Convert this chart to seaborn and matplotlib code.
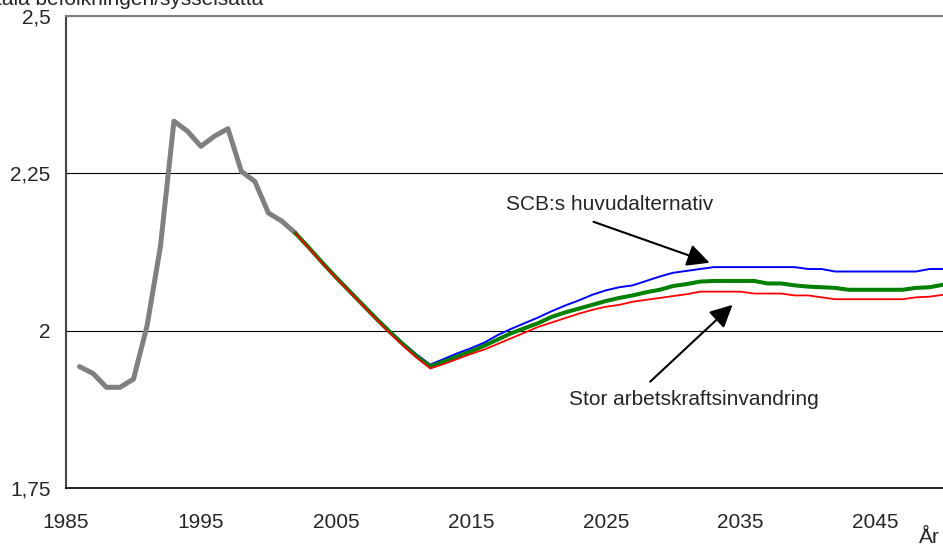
import matplotlib
matplotlib.use("Agg")
import matplotlib.pyplot as plt
import seaborn as sns
import pandas as pd

# historik 1986-2002
hist_years = list(range(1986, 2003))
hist_values = [1.943, 1.932, 1.910, 1.910, 1.923, 2.007, 2.134, 2.333, 2.317, 2.293,
               2.309, 2.321, 2.253, 2.237, 2.187, 2.174, 2.155]

# prognoser 2002-2050
prog_years = list(range(2002, 2051))
huvud = [2.155, 2.132, 2.109, 2.086, 2.064, 2.042, 2.021, 2.000, 1.980, 1.962,
         1.946, 1.955, 1.964, 1.972, 1.981, 1.993, 2.003, 2.012, 2.021, 2.031,
         2.040, 2.048, 2.057, 2.064, 2.069, 2.072, 2.079, 2.086, 2.092, 2.095,
         2.098, 2.101, 2.101, 2.101, 2.101, 2.101, 2.101, 2.101, 2.098, 2.098,
         2.094, 2.094, 2.094, 2.094, 2.094, 2.094, 2.094, 2.098, 2.098]
mellan = [2.155, 2.132, 2.108, 2.085, 2.063, 2.041, 2.019, 1.998, 1.978, 1.959,
          1.943, 1.951, 1.959, 1.967, 1.976, 1.986, 1.996, 2.004, 2.012, 2.022,
          2.029, 2.035, 2.041, 2.047, 2.052, 2.056, 2.061, 2.065, 2.071, 2.074,
          2.078, 2.079, 2.079, 2.079, 2.079, 2.075, 2.075, 2.072, 2.070, 2.069,
          2.068, 2.065, 2.065, 2.065, 2.065, 2.065, 2.068, 2.069, 2.073]
stor_inv = [2.155, 2.131, 2.107, 2.084, 2.062, 2.040, 2.018, 1.996, 1.976, 1.957,
            1.940, 1.947, 1.955, 1.963, 1.970, 1.979, 1.988, 1.997, 2.006, 2.013,
            2.020, 2.027, 2.033, 2.038, 2.041, 2.046, 2.049, 2.052, 2.055, 2.058,
            2.062, 2.062, 2.062, 2.062, 2.059, 2.059, 2.059, 2.056, 2.056, 2.053,
            2.050, 2.050, 2.050, 2.050, 2.050, 2.050, 2.053, 2.054, 2.057]

y_ticks = [1.75, 2.0, 2.25, 2.5]
y_labels = ["1,75", "2", "2,25", "2,5"]
x_ticks = list(range(1985, 2051, 5))
x_labels = [str(y) if (y - 1985) % 10 == 0 and y < 2050 else "" for y in x_ticks]

sns.set_style("white")
plt.rcParams["font.family"] = ["Liberation Sans", "DejaVu Sans"]
plt.rcParams["font.size"] = 15

df_hist = pd.DataFrame({"year": hist_years, "value": hist_values})
df_prog = pd.DataFrame({"year": prog_years, "huvud": huvud, "mellan": mellan, "stor": stor_inv})

fig = plt.figure(figsize=(9.43, 5.45), dpi=100)
ax = fig.add_axes([0.070, 0.1046, 0.93, 0.866])

sns.lineplot(x="year", y="value", data=df_hist, color="#808080", linewidth=3.6, ax=ax)
sns.lineplot(x="year", y="huvud", data=df_prog, color="#0000FF", linewidth=1.4, ax=ax)
sns.lineplot(x="year", y="mellan", data=df_prog, color="#008000", linewidth=2.9, ax=ax)
sns.lineplot(x="year", y="stor", data=df_prog, color="#FF0000", linewidth=1.3, ax=ax)

ax.set_xlim(1985, 2050)
ax.set_ylim(1.75, 2.5)
ax.set_xticks(x_ticks)
ax.set_xticklabels(x_labels)
ax.set_yticks(y_ticks)
ax.set_yticklabels(y_labels)
ax.set_xlabel("")
ax.set_ylabel("")
ax.tick_params(axis="x", direction="out", length=5, width=1, color="#000000", pad=13, labelsize=15)
ax.tick_params(axis="y", direction="inout", length=10, width=1, color="#000000", pad=6, labelsize=15)

ax.yaxis.grid(True, color="#000000", linewidth=0.8)
ax.set_axisbelow(True)
ax.spines["right"].set_visible(False)
ax.spines["top"].set_color("#808080")
ax.spines["top"].set_linewidth(1.5)
ax.spines["left"].set_color("#444444")
ax.spines["left"].set_linewidth(1.5)
ax.spines["bottom"].set_color("#000000")
ax.spines["bottom"].set_linewidth(1.2)

# texter och pilar
ax.text(2025.3, 2.200, "SCB:s huvudalternativ", ha="center", va="center", fontsize=15)
ax.annotate("", xy=(2032.7, 2.108), xytext=(2024.1, 2.173),
            arrowprops=dict(arrowstyle="-|>", color="black", lw=1.5, mutation_scale=34,
                            shrinkA=0, shrinkB=0))
ax.text(2031.5, 1.890, "Stor arbetskraftsinvandring", ha="center", va="center", fontsize=15)
ax.annotate("", xy=(2034.4, 2.041), xytext=(2028.3, 1.919),
            arrowprops=dict(arrowstyle="-|>", color="black", lw=1.5, mutation_scale=34,
                            shrinkA=0, shrinkB=0))

fig.text(263 / 943, 1 - 5 / 545, "Totala befolkningen/sysselsatta", ha="right",
         va="baseline", fontsize=15)
fig.text(919 / 943, 1 - 543 / 545, "År", ha="left", va="baseline", fontsize=15)

fig.savefig("out.png", dpi=100)
